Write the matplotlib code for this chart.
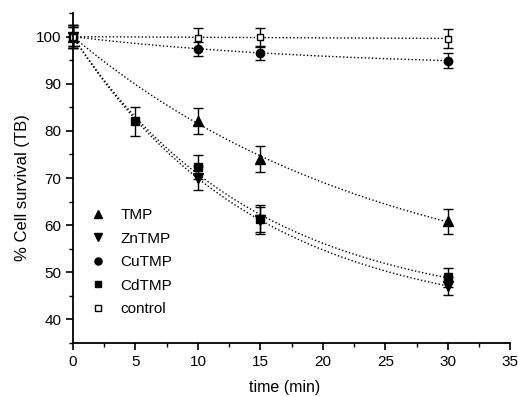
import numpy as np
import matplotlib
matplotlib.use("Agg")
import matplotlib.pyplot as plt
from matplotlib.ticker import MultipleLocator

plt.rcParams["font.family"] = ["Liberation Sans", "DejaVu Sans"]

# time points (min)
t_tmp = [0, 10, 15, 30]
t_cd = [0, 5, 10, 15, 30]

tmp = [100.0, 82.1, 74.1, 60.8]
tmp_err = [2.5, 2.8, 2.8, 2.6]
zntmp = [100.0, 70.0, 61.0, 47.1]
zntmp_err = [2.5, 2.6, 2.8, 2.0]
cutmp = [100.0, 97.4, 96.6, 94.9]
cutmp_err = [2.0, 1.4, 1.5, 1.6]
cdtmp = [100.0, 82.0, 72.3, 61.4, 48.9]
cdtmp_err = [2.0, 3.0, 2.5, 2.9, 2.0]
control = [100.0, 99.8, 99.9, 99.6]
control_err = [2.5, 2.1, 2.0, 2.0]


def decay_fit(t, y):
    """y = c + (100 - c) exp(-k t), grid over k, c by least squares."""
    t = np.asarray(t, float)
    y = np.asarray(y, float)
    best = None
    for k in np.linspace(0.001, 0.5, 2000):
        e = np.exp(-k * t)
        a = 1 - e
        c = np.dot(a, y - 100 * e) / np.dot(a, a)
        r = np.sum((c + (100 - c) * e - y) ** 2)
        if best is None or r < best[0]:
            best = (r, k, c)
    _, k, c = best
    tt = np.linspace(0, t.max(), 200)
    return tt, c + (100 - c) * np.exp(-k * tt)


series = [
    ("TMP", t_tmp, tmp, tmp_err, "^", "black", 6.5),
    ("ZnTMP", t_tmp, zntmp, zntmp_err, "v", "black", 6.5),
    ("CuTMP", t_tmp, cutmp, cutmp_err, "o", "black", 6),
    ("CdTMP", t_cd, cdtmp, cdtmp_err, "s", "black", 5.5),
    ("control", t_tmp, control, control_err, "s", "white", 5),
]

fig = plt.figure(figsize=(5.18, 3.97), dpi=100)
ax = fig.add_axes([0.141, 0.136, 0.844, 0.831])

for name, t, y, err, mk, fc, ms in series:
    tt, yy = decay_fit(t, y)
    ax.plot(tt, yy, linestyle=(0, (1, 1.6)), color="black", linewidth=1.0)
    ax.errorbar(t, y, yerr=err, fmt="none", ecolor="black", elinewidth=1.0,
                capsize=3.5, capthick=1.0, clip_on=False)
    ax.plot(t, y, linestyle="none", marker=mk, markersize=ms,
            markerfacecolor=fc, markeredgecolor="black", markeredgewidth=1.0,
            label=name, clip_on=False)

ax.set_xlim(0, 35)
ax.set_ylim(35, 105)
ax.xaxis.set_major_locator(MultipleLocator(5))
ax.xaxis.set_minor_locator(MultipleLocator(2.5))
ax.yaxis.set_major_locator(MultipleLocator(10))
ax.yaxis.set_minor_locator(MultipleLocator(5))
ax.set_yticks([40, 50, 60, 70, 80, 90, 100])
ax.spines["top"].set_visible(False)
ax.spines["right"].set_visible(False)
for s in ("left", "bottom"):
    ax.spines[s].set_linewidth(1.3)
ax.tick_params(which="major", length=5, width=1.2, labelsize=11)
ax.tick_params(which="minor", length=3, width=1.0)
ax.set_xlabel("time (min)", fontsize=11.5)
ax.set_ylabel("% Cell survival (TB)", fontsize=12)
ax.xaxis.set_label_coords(0.485, -0.112)
ax.yaxis.set_label_coords(-0.098, 0.47)

ax.legend(loc="lower left", bbox_to_anchor=(0.0, 0.04), frameon=False,
          fontsize=11, handletextpad=0.7, labelspacing=0.62, handlelength=1.5,
          markerscale=0.85)

fig.savefig("out.png", dpi=100)
